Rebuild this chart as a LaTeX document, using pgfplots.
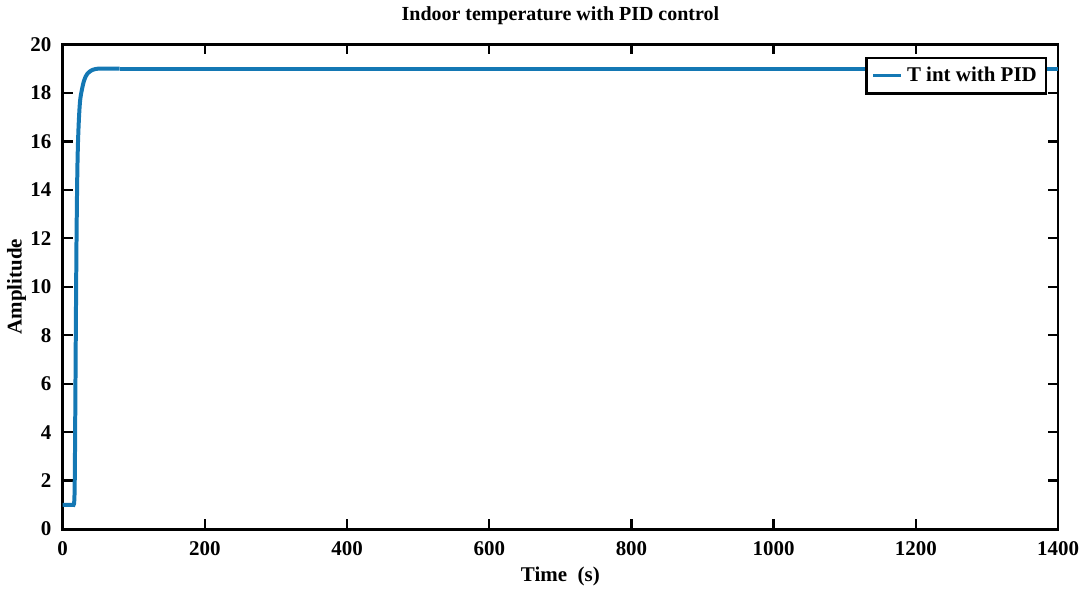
\documentclass[border=0pt]{standalone}
\usepackage{fontspec}
\setmainfont{Liberation Serif}
\usepackage{pgfplots}
\pgfplotsset{compat=1.18}
\definecolor{pidblue}{RGB}{20,120,180}
\begin{document}
\fontsize{10.5}{12}\selectfont\bfseries
\begin{tikzpicture}
\begin{axis}[
  scale only axis,
  width=497bp, height=242bp,
  xmin=0, xmax=1400, ymin=0, ymax=20,
  xtick={0,200,...,1400}, ytick={0,2,...,20},
  tick align=inside,
  major tick length=5bp,
  tick style={line width=1.2pt,black},
  axis line style={line width=1.4pt},
  /pgf/number format/assume math mode=true,
  /pgf/number format/1000 sep={},
  tick label style={font=\fontsize{10.5}{12}\selectfont\bfseries},
  label style={font=\fontsize{10.5}{12}\selectfont\bfseries},
  title style={font=\fontsize{10}{12}\selectfont\bfseries, yshift=0bp},
  title={Indoor temperature with PID control},
  xlabel={Time\ \ (s)},
  ylabel={Amplitude},
  xlabel style={yshift=1.5bp},
  ylabel style={yshift=-5bp},
  yticklabel style={xshift=-2bp},
  xticklabel style={yshift=-2.5bp},
  legend style={at={(0.989,0.975)}, anchor=north east, draw=black, line width=1.3pt,
    font=\fontsize{10.5}{12}\selectfont\bfseries, inner sep=2.5bp, row sep=0pt},
  legend cell align=left,
  legend image post style={line width=1.6pt},
  legend image code/.code={\draw[#1] (0cm,0cm) -- (0.5cm,0cm);},
]
\addplot[pidblue, line width=2pt, smooth] coordinates {
(0,1) (8,1) (14,1) (16,1.05) (16.8,1.6) (17.3,3) (18,6) (18.7,9) (19.5,12) (20.5,14.5) (21.5,15.9) (23,17.0) (25,17.8) (30,18.5) (35,18.8) (42,18.95) (50,19.0) (60,19.0) (80,19.0)};
\addplot[pidblue, line width=2pt, forget plot] coordinates {(80,19.0) (400,19.0) (800,19.0) (1400,19.0)};
\addlegendentry{T int with PID}
\end{axis}
\end{tikzpicture}
\end{document}
